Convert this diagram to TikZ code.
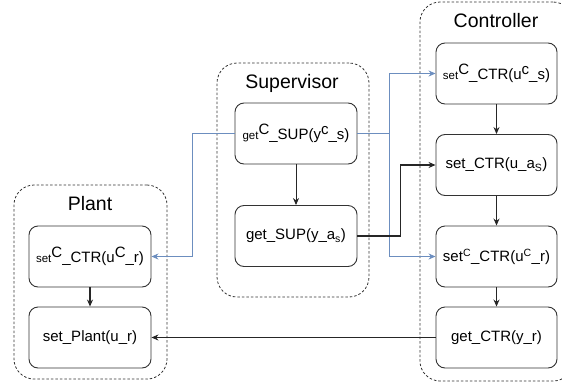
\documentclass[tikz,border=0pt]{standalone}
\usepackage{fontspec}
\setmainfont{Liberation Sans}
\usetikzlibrary{arrows.meta}
\definecolor{blueline}{HTML}{6C8EBF}
\definecolor{boxline}{HTML}{333333}
\newcommand{\smtxt}[1]{{\fontsize{11.5}{12}\selectfont #1}}
\newcommand{\hitxt}[1]{\raisebox{5pt}{#1}}
\begin{document}
\begin{tikzpicture}[x=1pt,y=-1pt,
  box/.style={draw=boxline, line width=0.9pt, rounded corners=9pt,
    minimum width=122pt, minimum height=61pt, inner sep=0pt,
    font=\fontsize{15}{18}\selectfont},
  group/.style={draw=boxline, dash pattern=on 2.5pt off 2pt, rounded corners=20pt,
    line width=0.8pt, inner sep=0pt},
  grouptitle/.style={anchor=base, font=\fontsize{19.5}{22}\selectfont},
  flow/.style={-{Stealth[length=7pt,width=6pt]}, line width=0.9pt, black!85},
  flowthick/.style={flow, line width=1.4pt},
  sig/.style={-{Stealth[length=7pt,width=6pt]}, line width=0.9pt, blueline}
]
\useasboundingbox (0,0) rectangle (562,383);

% containers
\node[group, minimum width=153pt, minimum height=194pt] (plantgrp) at (90.5,282) {};
\node[group, minimum width=152pt, minimum height=234pt] (supgrp) at (293,180) {};
\node[group, minimum width=153pt, minimum height=379pt] (ctrgrp) at (496.5,191.5) {};

% titles
\node[grouptitle] (planttitle) at (90,210) {Plant};
\node[grouptitle] (suptitle) at (292,88) {Supervisor};
\node[grouptitle] (ctrtitle) at (496,27) {Controller};

% Plant boxes
\node[box] (plantA) at (90,256.5) {\smtxt{set}\hitxt{C}\_CTR(u\hitxt{C}\_r)};
\node[box] (plantB) at (90,337.5) {set\_Plant(u\_r)};

% Supervisor boxes
\node[box] (supA) at (296,133.5) {\smtxt{get}\hitxt{C}\_SUP(y\hitxt{c}\_s)};
\node[box] (supB) at (296,236) {get\_SUP(y\_a\textsubscript{s})};

% Controller boxes
\node[box, minimum width=121pt] (ctrA) at (496.5,73.5) {\smtxt{set}\hitxt{C}\_CTR(u\hitxt{c}\_s)};
\node[box, minimum width=121pt] (ctrB) at (496.5,165) {set\_CTR(u\_a\textsubscript{S})};
\node[box, minimum width=121pt] (ctrC) at (496.5,256.5) {set\textsuperscript{C}\_CTR(u\textsuperscript{C}\_r)};
\node[box, minimum width=121pt] (ctrD) at (496.5,337.5) {get\_CTR(y\_r)};

% internal arrows
\draw[flowthick] (plantA) -- (plantB);
\draw[flow] (supA) -- (supB);
\draw[flow] (ctrA) -- (ctrB);
\draw[flowthick] (ctrB) -- (ctrC);
\draw[flowthick] (ctrC) -- (ctrD);

% blue signals
\draw[sig] (supA.west) -- ++(-42,0) |- (plantA.east);
\draw[sig] (supA.east) -- ++(32,0) |- (ctrA.west);
\draw[sig] (supA.east) -- ++(32,0) |- (ctrC.west);

% black signals
\draw[flow, line width=1.2pt] (supB.east) -- ++(43,0) |- (ctrB.west);
\draw[flow, line width=0.7pt] (ctrD.west) -- (plantB.east);
\end{tikzpicture}
\end{document}
